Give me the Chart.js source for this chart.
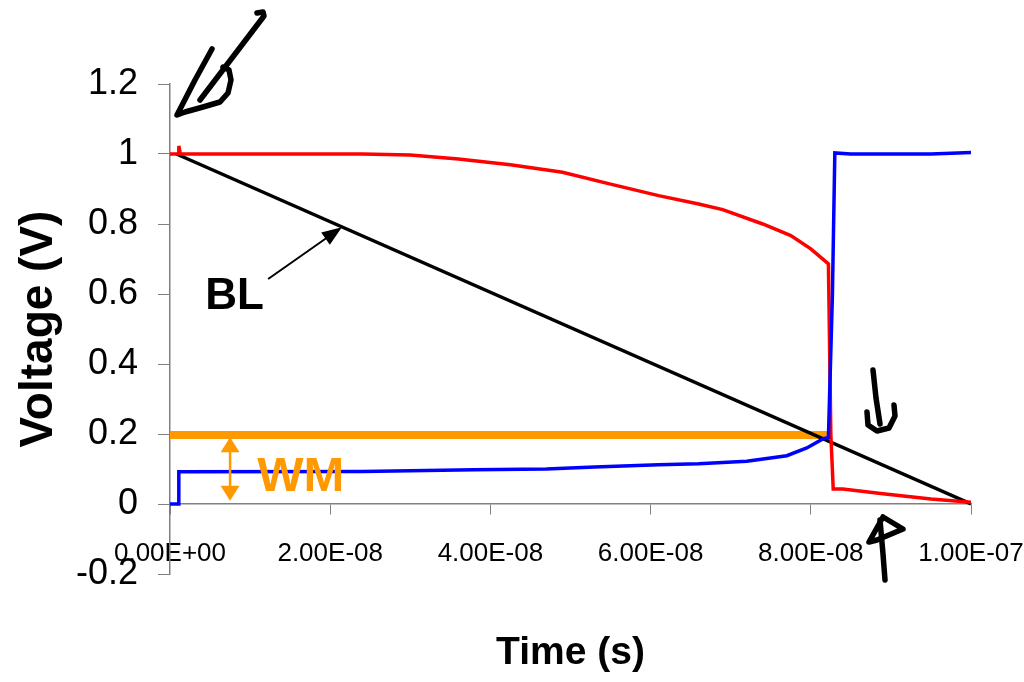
<!DOCTYPE html>
<html>
<head>
<meta charset="utf-8">
<script src="https://cdn.jsdelivr.net/npm/chart.js@4.4.1/dist/chart.umd.min.js"></script>
<style>
	body { margin: 0; background: #ffffff; }
	#wrap { width: 1024px; height: 682px; }
</style>
</head>
<body>
<div id="wrap">
	<canvas id="myChart" width="1024" height="682"></canvas>
</div>
<script>
	// times are in ns, converted to seconds below
	const redT = [0, 1.0, 1.1, 1.3, 24, 30, 36, 42.5, 49, 55, 61, 66, 69, 74, 77.5, 80, 82.2, 82.5, 82.8, 84, 89, 95, 100];
	const redV = [1.0, 1.0, 1.023, 1.0, 1.0, 0.997, 0.986, 0.969, 0.948, 0.914, 0.881, 0.857, 0.841, 0.8, 0.767, 0.729, 0.686, 0.2, 0.043, 0.043, 0.029, 0.014, 0.005];

	const blueT = [0, 1.0, 1.1, 24, 38, 47, 53, 61, 66, 72, 77, 79.5, 81.5, 82.2, 82.7, 83, 85, 95, 100];
	const blueV = [0, 0, 0.092, 0.093, 0.098, 0.10, 0.106, 0.112, 0.115, 0.122, 0.138, 0.16, 0.186, 0.19, 0.6, 1.003, 1.0, 1.0, 1.004];

	const blT = [0.8, 100];
	const blV = [1.0, 0.0];

	const wmT = [0, 82.2];
	const wmV = [0.197, 0.197];

	const xTickLabels = ['0.00E+00', '2.00E-08', '4.00E-08', '6.00E-08', '8.00E-08', '1.00E-07'];
	const yTickLabels = ['-0.2', '0', '0.2', '0.4', '0.6', '0.8', '1', '1.2'];

	const NS = 1e-9;
	const FONT = '"Liberation Sans", Arial, sans-serif';
	const ORANGE = 'rgb(255, 153, 0)';

	function points(ts, vs) {
		return ts.map((t, i) => ({ x: t * NS, y: vs[i] }));
	}

	function line(label, ts, vs, color, width) {
		return {
			label: label,
			data: points(ts, vs),
			borderColor: color,
			backgroundColor: color,
			borderWidth: width,
			pointRadius: 0,
			showLine: true,
			tension: 0,
			xAxisID: 'x',
			yAxisID: 'y'
		};
	}

	function arrowHead(ctx, x1, y1, x2, y2, len, w) {
		const a = Math.atan2(y2 - y1, x2 - x1);
		ctx.beginPath();
		ctx.moveTo(x2, y2);
		ctx.lineTo(x2 - len * Math.cos(a) + w / 2 * Math.sin(a), y2 - len * Math.sin(a) - w / 2 * Math.cos(a));
		ctx.lineTo(x2 - len * Math.cos(a) - w / 2 * Math.sin(a), y2 - len * Math.sin(a) + w / 2 * Math.cos(a));
		ctx.closePath();
		ctx.fill();
	}

	function stroke(ctx, ox, oy, pts) {
		ctx.beginPath();
		pts.forEach((p, i) => {
			if (i === 0) ctx.moveTo(ox + p[0], oy + p[1]);
			else ctx.lineTo(ox + p[0], oy + p[1]);
		});
		ctx.stroke();
	}

	// labels, arrows and the hand-drawn pen marks
	const annotations = {
		id: 'annotations',
		afterDatasetsDraw(chart) {
			const ctx = chart.ctx;
			const xs = chart.scales.x;
			const ys = chart.scales.y;
			const px = t => xs.getPixelForValue(t * NS);
			const py = v => ys.getPixelForValue(v);
			ctx.save();

			// BL label and arrow
			ctx.fillStyle = '#000000';
			ctx.strokeStyle = '#000000';
			ctx.font = 'bold 44px ' + FONT;
			ctx.textAlign = 'left';
			ctx.textBaseline = 'alphabetic';
			ctx.fillText('BL', px(4.4), py(0.557));
			ctx.lineWidth = 2;
			const x1 = px(12.25), y1 = py(0.643), x2 = px(21.46), y2 = py(0.791);
			const a = Math.atan2(y2 - y1, x2 - x1);
			ctx.beginPath();
			ctx.moveTo(x1, y1);
			ctx.lineTo(x2 - 14 * Math.cos(a), y2 - 14 * Math.sin(a));
			ctx.stroke();
			arrowHead(ctx, x1, y1, x2, y2, 20, 15);

			// WM label and double arrow
			ctx.fillStyle = ORANGE;
			ctx.strokeStyle = ORANGE;
			ctx.font = 'bold 49px ' + FONT;
			ctx.fillText('WM', px(10.9), py(0.037));
			const ax = px(7.5), at = py(0.191), ab = py(0.009);
			ctx.lineWidth = 2.5;
			ctx.beginPath();
			ctx.moveTo(ax, at + 10);
			ctx.lineTo(ax, ab - 10);
			ctx.stroke();
			arrowHead(ctx, ax, ab, ax, at, 15, 19);
			arrowHead(ctx, ax, at, ax, ab, 15, 19);

			// pen marks, relative to the plot corner
			const ox = chart.chartArea.left, oy = chart.chartArea.top;
			ctx.strokeStyle = '#000000';
			ctx.lineWidth = 5.5;
			ctx.lineCap = 'round';
			ctx.lineJoin = 'round';
			stroke(ctx, ox, oy, [[87, -71], [93, -72], [94, -68], [62, -26], [30, 16]]);
			stroke(ctx, ox, oy, [[42, -35], [25, -4], [7, 31], [15, 28], [33, 23], [50, 18], [58, 9], [61, -4], [59, -14], [53, -17]]);
			stroke(ctx, ox, oy, [[703, 286], [706, 314], [710, 340]]);
			stroke(ctx, ox, oy, [[697, 328], [698, 341], [707, 347], [719, 344], [725, 332], [724, 321]]);
			stroke(ctx, ox, oy, [[713, 433], [699, 458], [707, 456], [733, 445], [713, 433]]);
			stroke(ctx, ox, oy, [[710, 436], [713, 470], [715, 496]]);
			ctx.restore();
		}
	};

	const data = {
		datasets: [
			line('Blue', blueT, blueV, '#0000ff', 3.5),
			line('Red', redT, redV, '#ff0000', 3.5),
			line('BL', blT, blV, '#000000', 3.5),
			line('WM level', wmT, wmV, ORANGE, 8)
		]
	};

	const config = {
		type: 'scatter',
		data: data,
		options: {
			responsive: false,
			animation: false,
			layout: { padding: { top: 84, right: 53, left: 0, bottom: 0 } },
			plugins: {
				legend: { display: false },
				tooltip: { enabled: false },
				title: {
					display: true,
					position: 'bottom',
					fullSize: false,
					text: 'Time (s)',
					color: '#000000',
					font: { family: FONT, size: 39, weight: 'bold', lineHeight: 1.2 },
					padding: { top: 56, bottom: 5.2 }
				}
			},
			scales: {
				x: {
					type: 'linear',
					position: { y: 0 },
					min: 0,
					max: 1e-7,
					afterFit: scale => {
						scale.height = 0;
						scale.paddingLeft = 0;
						scale.paddingRight = 0;
					},
					ticks: {
						stepSize: 2e-8,
						color: '#000000',
						padding: 24,
						maxRotation: 0,
						font: { family: FONT, size: 26 },
						callback: (v, i) => xTickLabels[i]
					},
					grid: { drawOnChartArea: false, drawTicks: true, tickLength: 10, color: '#808080' },
					border: { display: true, color: '#808080', width: 1.5 }
				},
				y: {
					type: 'linear',
					position: 'left',
					min: -0.2,
					max: 1.2,
					afterFit: scale => { scale.width = 170; },
					ticks: {
						stepSize: 0.2,
						color: '#000000',
						padding: 20,
						font: { family: FONT, size: 36 },
						callback: (v, i) => yTickLabels[i]
					},
					grid: { drawOnChartArea: false, drawTicks: true, tickLength: 12, color: '#808080' },
					border: { display: true, color: '#808080', width: 1.5 },
					title: {
						display: true,
						text: 'Voltage (V)',
						color: '#000000',
						font: { family: FONT, size: 46, weight: 'bold', lineHeight: 1.2 },
						padding: { top: 12, bottom: 0 }
					}
				}
			}
		},
		plugins: [annotations]
	};

	const myChart = new Chart(
		document.getElementById('myChart'),
		config
	);
</script>
</body>
</html>
